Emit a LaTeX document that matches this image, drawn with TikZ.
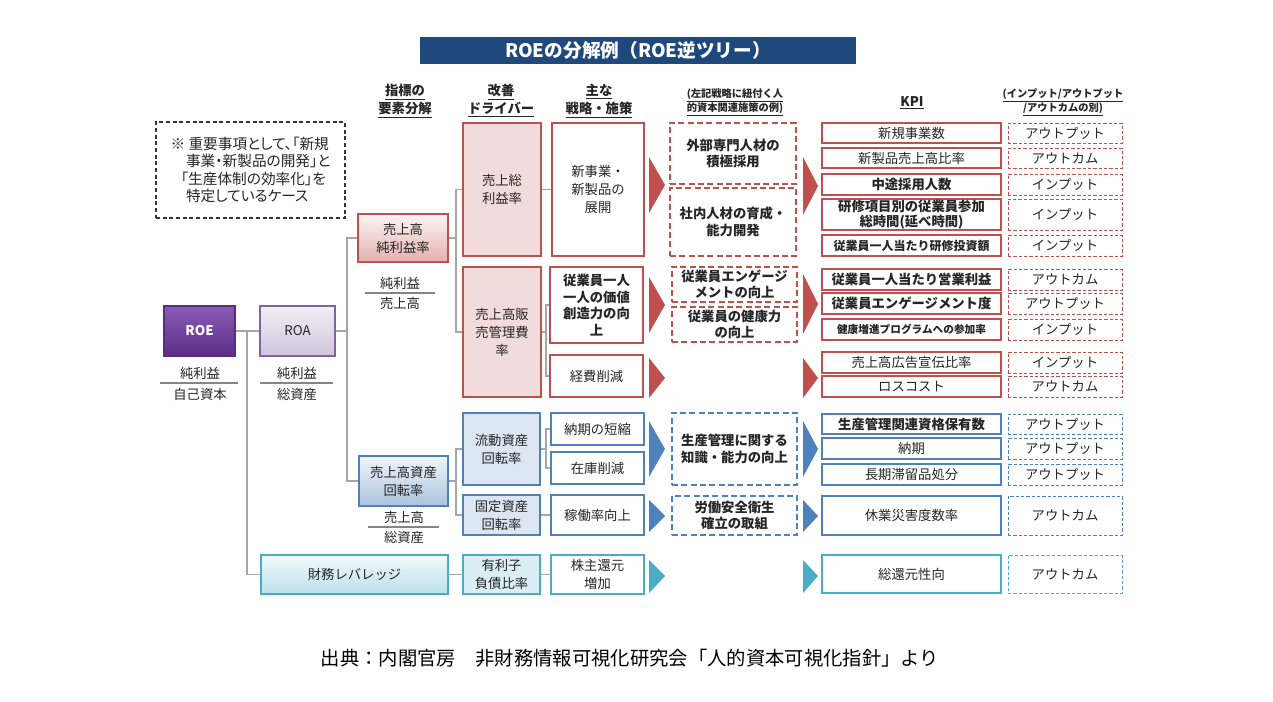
\documentclass[tikz,border=0pt]{standalone}
\usepackage{fontspec}
\setmainfont{Noto Sans CJK JP}
\definecolor{navy}{HTML}{1F497D}
\definecolor{rc}{HTML}{C0504D}
\definecolor{rfill}{HTML}{F2DCDB}
\definecolor{bc}{HTML}{4F81BD}
\definecolor{bfill}{HTML}{DCE6F2}
\definecolor{cc}{HTML}{4BACC6}
\definecolor{cfill}{HTML}{DAEEF3}
\definecolor{pc}{HTML}{8064A2}
\definecolor{roetop}{HTML}{8A5CB6}
\definecolor{roebot}{HTML}{5A2C84}
\definecolor{conn}{HTML}{A6A6A6}
\definecolor{txt}{HTML}{262626}
\newcommand\myfs[2]{\fontsize{#1}{#2}\selectfont}
% \mybox{style}{name}{x1}{y1}{x2}{y2}{text}
\newcommand\mybox[7]{\node[#1, minimum width={(#5-#3)*0.75pt}, minimum height={(#6-#4)*0.75pt}] (#2) at ({(#3+#5)/2},{(#4+#6)/2}) {#7};}
\begin{document}
\begin{tikzpicture}[x=0.75pt,y=-0.75pt,
  bx/.style={inner sep=0pt, align=center, text=txt, font=\myfs{10}{13.5}},
  lvone/.style={bx, draw=#1, line width=0.8pt},
  lvtwo/.style={bx, line width=1.5pt},
  strat/.style={bx, fill=white, line width=1.5pt},
  hcbox/.style={bx, draw=#1, line width=1.5pt, dash pattern=on 4.5pt off 2.5pt, font=\bfseries\myfs{10}{12.5}},
  kpi/.style={bx, draw=#1, line width=1.1pt, fill=white},
  cat/.style={bx, draw=#1, line width=0.7pt, dash pattern=on 2.5pt off 1.5pt},
  hdr/.style={align=center, font=\bfseries\myfs{10}{13.5}, text=txt, inner sep=0pt},
  shdr/.style={align=center, font=\bfseries\myfs{7.7}{10.5}, text=txt, inner sep=0pt},
  lbl/.style={align=center, font=\myfs{10}{13}, text=txt, inner sep=0pt},
  cn/.style={draw=conn, line width=0.9pt},
  frac/.style={draw=conn!80!black, line width=0.8pt}
]
\useasboundingbox[fill=white] (0,0) rectangle (1273,702);

% title
\mybox{bx, fill=navy, text=white, font=\bfseries\myfs{14}{16}}{title}{420}{37}{856}{64}{ROEの分解例（ROE逆ツリー）}

% headers
\node[hdr] (h1) at (405,101) {\underline{指標の}\\\underline{要素分解}};
\node[hdr] (h2) at (501,101) {\underline{改善}\\\underline{ドライバー}};
\node[hdr] (h3) at (599,101) {\underline{主な}\\\underline{戦略・施策}};
\node[shdr] (h4) at (735,102) {\underline{(左記戦略に紐付く人}\\\underline{的資本関連施策の例)}};
\node[hdr] (h5) at (912,103) {\underline{KPI}};
\node[shdr] (h6) at (1063,102) {\underline{(インプット/アウトプット}\\\underline{/アウトカムの別)}};

% note
\mybox{bx, draw=black!80, line width=0.8pt, dash pattern=on 3pt off 2pt, align=left, font=\addfontfeatures{RawFeature=+palt}\myfs{11}{13}}{note}{156}{122}{345}{218}
 {※ 重要事項として、「新規\\\hspace*{1.05em}事業・新製品の開発」と\\\hspace*{0.7em}「生産体制の効率化」を\\\hspace*{1.05em}特定しているケース}

% level 1
\mybox{lvone=roebot, top color=roetop, bottom color=roebot, text=white, font=\bfseries\myfs{10}{12}}{roe}{164}{306}{235}{356}{ROE}
\mybox{lvone=pc, top color=pc!10!white, bottom color=pc!38!white}{roa}{260}{306}{335}{356}{ROA}
\mybox{lvone=rc, top color=rc!6!white, bottom color=rc!45!white}{npm}{358}{214}{448}{262}{売上高\\純利益率}
\mybox{lvone=bc, top color=bc!8!white, bottom color=bc!48!white}{sat}{359}{456}{448}{506}{売上高資産\\回転率}
\mybox{lvone=cc, top color=cc!6!white, bottom color=cc!38!white}{fin}{261}{555}{448}{594}{財務レバレッジ}

% fractions
\node[lbl] (roen) at (200,373) {純利益};
\node[lbl] (roed) at (200,394) {自己資本};
\draw[frac] (160,383) -- (238,383);
\node[lbl] (roan) at (297,373) {純利益};
\node[lbl] (road) at (297,394) {総資産};
\draw[frac] (260,383) -- (333,383);
\node[lbl] (npmn) at (400,283) {純利益};
\node[lbl] (npmd) at (400,303) {売上高};
\draw[frac] (365,293) -- (435,293);
\node[lbl] (satn) at (404,517) {売上高};
\node[lbl] (satd) at (404,537) {総資産};
\draw[frac] (368,527) -- (439,527);

% level 2
\mybox{lvtwo, draw=rc, fill=rfill}{gpm}{463}{123}{541}{256}{売上総\\利益率}
\mybox{lvtwo, draw=rc, fill=rfill}{sga}{463}{267}{541}{397}{売上高販\\売管理費\\率}
\mybox{lvtwo, draw=bc, fill=bfill}{cur}{463}{413}{540}{485}{流動資産\\回転率}
\mybox{lvtwo, draw=bc, fill=bfill}{fix}{463}{495}{540}{535}{固定資産\\回転率}
\mybox{lvtwo, draw=cc, fill=cfill}{debt}{463}{555}{540}{594}{有利子\\負債比率}

% strategies
\mybox{strat, draw=rc}{newb}{552}{123}{644}{256}{新事業・\\新製品の\\展開}
\mybox{strat, draw=rc, font=\bfseries\myfs{10}{12.3}}{emp}{550}{267}{643}{343}{従業員一人\\一人の価値\\創造力の向\\上}
\mybox{strat, draw=rc}{cost}{550}{355}{643}{397}{経費削減}
\mybox{strat, draw=bc}{nouki}{551}{413}{644}{445}{納期の短縮}
\mybox{strat, draw=bc}{zaiko}{551}{452}{644}{484}{在庫削減}
\mybox{strat, draw=bc}{kado}{551}{495}{644}{535}{稼働率向上}
\mybox{strat, draw=cc}{share}{551}{555}{644}{594}{株主還元\\増加}

% human capital measures
\mybox{hcbox=rc}{hc1}{670}{123}{796}{184}{外部専門人材の\\積極採用}
\mybox{hcbox=rc}{hc2}{670}{188}{796}{256}{社内人材の育成・\\能力開発}
\mybox{hcbox=rc, font=\bfseries\myfs{10}{11.5}}{hc3}{672}{267}{797}{302}{従業員エンゲージ\\メントの向上}
\mybox{hcbox=rc, font=\bfseries\myfs{10}{11.5}}{hc4}{672}{307}{797}{342}{従業員の健康力\\の向上}
\mybox{hcbox=bc}{hc5}{672}{413}{797}{485}{生産管理に関する\\知識・能力の向上}
\mybox{hcbox=bc}{hc6}{672}{496}{797}{535}{労働安全衛生\\確立の取組}

% KPI
\mybox{kpi=rc}{k1}{822}{123}{1001}{143}{新規事業数}
\mybox{kpi=rc}{k2}{822}{148}{1001}{168}{新製品売上高比率}
\mybox{kpi=rc, font=\bfseries\myfs{10}{12}}{k3}{822}{174}{1001}{195}{中途採用人数}
\mybox{kpi=rc, font=\bfseries\myfs{10}{11.5}}{k4}{822}{199}{1001}{230}{研修項目別の従業員参加\\総時間(延べ時間)}
\mybox{kpi=rc, font=\bfseries\myfs{9}{11}}{k5}{822}{235}{1001}{256}{従業員一人当たり研修投資額}
\mybox{kpi=rc, font=\bfseries\myfs{10}{12}}{k6}{822}{269}{1001}{290}{従業員一人当たり営業利益}
\mybox{kpi=rc, font=\bfseries\myfs{10}{12}}{k7}{822}{293}{1001}{314}{従業員エンゲージメント度}
\mybox{kpi=rc, font=\bfseries\myfs{8}{10}}{k8}{822}{319}{1001}{340}{健康増進プログラムへの参加率}
\mybox{kpi=rc}{k9}{822}{352}{1001}{373}{売上高広告宣伝比率}
\mybox{kpi=rc}{k10}{822}{376}{1001}{397}{ロスコスト}
\mybox{kpi=bc, font=\bfseries\myfs{10}{12}}{k11}{822}{414}{1001}{434}{生産管理関連資格保有数}
\mybox{kpi=bc}{k12}{822}{438}{1001}{459}{納期}
\mybox{kpi=bc}{k13}{822}{464}{1001}{485}{長期滞留品処分}
\mybox{kpi=bc}{k14}{822}{496}{1001}{535}{休業災害度数率}
\mybox{kpi=cc}{k15}{822}{555}{1001}{593}{総還元性向}

% categories
\mybox{cat=rc}{c1}{1008}{123}{1122}{143}{アウトプット}
\mybox{cat=rc}{c2}{1008}{148}{1122}{168}{アウトカム}
\mybox{cat=rc}{c3}{1008}{174}{1122}{195}{インプット}
\mybox{cat=rc}{c4}{1008}{199}{1122}{230}{インプット}
\mybox{cat=rc}{c5}{1008}{235}{1122}{256}{インプット}
\mybox{cat=rc}{c6}{1008}{269}{1122}{290}{アウトカム}
\mybox{cat=rc}{c7}{1008}{293}{1122}{314}{アウトプット}
\mybox{cat=rc}{c8}{1008}{319}{1122}{340}{インプット}
\mybox{cat=rc}{c9}{1008}{352}{1122}{373}{インプット}
\mybox{cat=rc}{c10}{1008}{376}{1122}{397}{アウトカム}
\mybox{cat=bc}{c11}{1008}{414}{1122}{434}{アウトプット}
\mybox{cat=bc}{c12}{1008}{438}{1122}{459}{アウトプット}
\mybox{cat=bc}{c13}{1008}{464}{1122}{485}{アウトプット}
\mybox{cat=bc}{c14}{1008}{496}{1122}{535}{アウトカム}
\mybox{cat=cc}{c15}{1008}{555}{1122}{593}{アウトカム}

% connectors
\coordinate (j1) at (247,331);
\coordinate (j2) at (347,331);
\coordinate (j3) at (456,238);
\coordinate (j4) at (546,332);
\coordinate (j5) at (456,481);
\coordinate (j6) at (546,449);
\draw[cn] (roe.east) -- (roa.west);
\draw[cn] (j1) |- (fin.west);
\draw[cn] (roa.east) -- (j2);
\draw[cn] (npm.west) -| (j2) |- (sat.west);
\draw[cn] (npm.east) -- (j3);
\draw[cn] (gpm.west) -| (j3) |- (sga.west);
\draw[cn] (gpm.east) -- (newb.west);
\draw[cn] (sga.east) -- (j4);
\draw[cn] (emp.west) -| (j4) |- (cost.west);
\draw[cn] (sat.east) -- (j5);
\draw[cn] (cur.west) -| (j5) |- (fix.west);
\draw[cn] (cur.east) -- (j6);
\draw[cn] (nouki.west) -| (j6) |- (zaiko.west);
\draw[cn] (fix.east) -- (kado.west);
\draw[cn] (fin.east) -- (debt.west);
\draw[cn] (debt.east) -- (share.west);

% chevrons
\fill[rc] (649,157) -- (665,185) -- (649,213) -- cycle;
\fill[rc] (649,277) -- (665,305) -- (649,333) -- cycle;
\fill[rc] (649,358) -- (665,378) -- (649,398) -- cycle;
\fill[rc] (803,157) -- (818,186) -- (803,215) -- cycle;
\fill[rc] (803,274) -- (818,304) -- (803,334) -- cycle;
\fill[rc] (803,358) -- (818,378) -- (803,398) -- cycle;
\fill[bc] (649,421) -- (665,449) -- (649,477) -- cycle;
\fill[bc] (649,500) -- (665,516) -- (649,532) -- cycle;
\fill[bc] (803,421) -- (818,449) -- (803,477) -- cycle;
\fill[bc] (803,500) -- (818,516) -- (803,532) -- cycle;
\fill[cc] (649,560) -- (665,576) -- (649,593) -- cycle;
\fill[cc] (803,560) -- (818,576) -- (803,593) -- cycle;

% source
\node[font=\myfs{14.5}{16}, text=black, inner sep=0pt] (src) at (630,658) {出典：内閣官房　非財務情報可視化研究会「人的資本可視化指針」より};
\end{tikzpicture}
\end{document}
